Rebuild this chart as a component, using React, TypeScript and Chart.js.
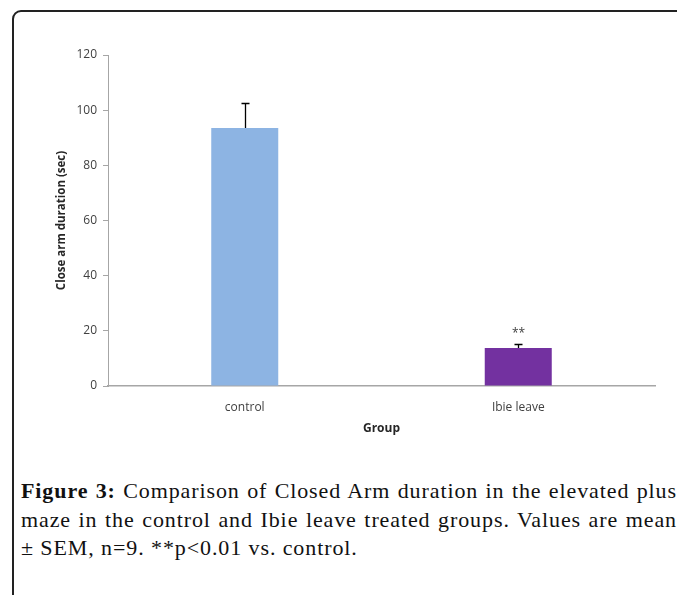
import React, { useEffect, useRef } from 'react';
import { Chart, registerables } from 'chart.js';

Chart.register(...registerables);

const categories = ['control', 'Ibie leave'];
const means = [93.5, 13.8];
const sems = [9.2, 1.4];
const marks = ['', '**'];
const barColors = ['#8db4e3', '#7331a0'];
const yMin = 0;
const yMax = 120;
const yStep = 20;
const yTitle = 'Close arm duration (sec)';
const xTitle = 'Group';

const tickFont = '"Open Sans"';

const errorBarPlugin = {
  id: 'errorBars',
  afterDatasetsDraw(chart: any) {
    const { ctx } = chart;
    const y = chart.scales.y;
    const meta = chart.getDatasetMeta(0);
    ctx.save();
    meta.data.forEach((bar: any, i: number) => {
      const xc = Math.round(bar.x) + 0.5;
      const yVal = y.getPixelForValue(means[i]);
      const yTop = Math.round(y.getPixelForValue(means[i] + sems[i])) + 0.5;
      ctx.strokeStyle = '#000';
      ctx.lineWidth = 1.3;
      ctx.beginPath();
      ctx.moveTo(xc, yVal);
      ctx.lineTo(xc, yTop);
      ctx.moveTo(xc - 4, yTop);
      ctx.lineTo(xc + 4, yTop);
      ctx.stroke();
      if (marks[i]) {
        ctx.fillStyle = '#404040';
        ctx.font = '12px "Open Sans"';
        ctx.textAlign = 'center';
        ctx.textBaseline = 'middle';
        ctx.fillText(marks[i], xc, yTop - 11);
      }
    });
    ctx.restore();
  },
};

function ChartBox() {
  const ref = useRef<HTMLCanvasElement>(null);
  useEffect(() => {
    if (!ref.current) return;
    const chart = new Chart(ref.current, {
      type: 'bar',
      data: {
        labels: categories,
        datasets: [
          {
            data: means,
            backgroundColor: barColors,
            borderWidth: 0,
            categoryPercentage: 1,
            barPercentage: 0.245,
          },
        ],
      },
      options: {
        animation: false,
        responsive: false,
        maintainAspectRatio: false,
        layout: { padding: { left: 55, top: 55, right: 22, bottom: 14 } },
        plugins: { legend: { display: false }, tooltip: { enabled: false } },
        scales: {
          x: {
            afterFit: (s: any) => { s.height = 50; },
            grid: { display: false, drawTicks: false },
            border: { display: true, color: '#a6a6a6', width: 1.5 },
            ticks: { color: '#404040', font: { family: tickFont, size: 12 }, padding: 14 },
            title: {
              display: true,
              text: xTitle,
              color: '#262626',
              font: { family: tickFont, size: 12, weight: 'bold' },
              padding: 0,
            },
          },
          y: {
            min: yMin,
            max: yMax,
            afterFit: (s: any) => { s.width = 53; },
            grid: { display: true, drawOnChartArea: false, drawTicks: true, tickLength: 5, color: '#a6a6a6' },
            border: { display: true, color: '#a6a6a6', width: 1 },
            ticks: { stepSize: yStep, color: '#404040', font: { family: tickFont, size: 12 }, padding: 6 },
            title: {
              display: true,
              text: yTitle,
              color: '#262626',
              font: { family: tickFont, size: 11.5, weight: 'bold' },
              padding: 0,
            },
          },
        },
      },
      plugins: [errorBarPlugin],
    });
    return () => chart.destroy();
  }, []);
  return <canvas ref={ref} width={677} height={450} style={{ position: 'absolute', left: 0, top: 0 }} />;
}

const captionStyle: React.CSSProperties = {
  fontFamily: '"Liberation Serif", serif',
  fontSize: 22,
  lineHeight: '28.5px',
  color: '#111',
  whiteSpace: 'nowrap',
  letterSpacing: '0.9px',
};

export default function App() {
  return (
    <div style={{ position: 'fixed', left: 0, top: 0, width: 677, height: 595, background: '#fff', overflow: 'hidden' }}>
      <div
        style={{
          position: 'absolute',
          left: 12,
          top: 10,
          width: 720,
          height: 640,
          border: '2px solid #222',
          borderTopLeftRadius: 9,
          boxSizing: 'border-box',
        }}
      />
      <ChartBox />
      <div style={{ position: 'absolute', left: 21, top: 477, width: 656 }}>
        <div style={{ ...captionStyle, textAlign: 'justify', textAlignLast: 'justify' }}>
          <b>Figure 3:</b> Comparison of Closed Arm duration in the elevated plus
        </div>
        <div style={{ ...captionStyle, textAlign: 'justify', textAlignLast: 'justify' }}>
          maze in the control and Ibie leave treated groups. Values are mean
        </div>
        <div style={captionStyle}>± SEM, n=9. **p&lt;0.01 vs. control.</div>
      </div>
    </div>
  );
}
